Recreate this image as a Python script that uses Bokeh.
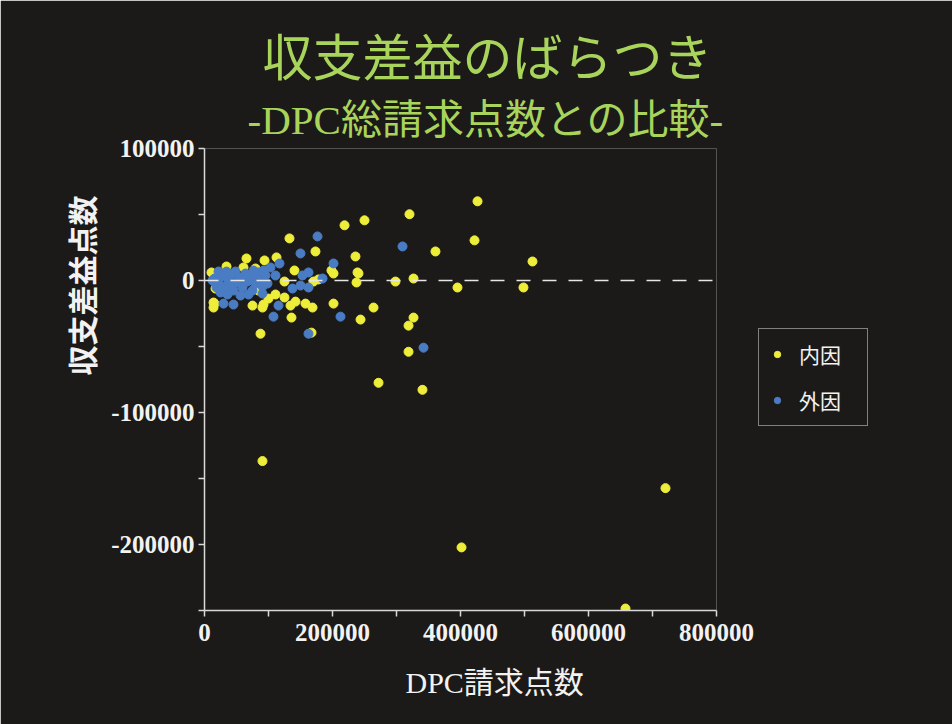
from bokeh.plotting import figure
from bokeh.models import (Range1d, FixedTicker, NumeralTickFormatter, Span, Title,
                          Legend, LegendItem)
from bokeh.embed import file_html
from bokeh.resources import INLINE

# ---------------- data ----------------
naiin_x = [90600, 401600, 720300, 657800, 426600, 320300, 250000, 218800, 421900,
           360900, 512500, 235900, 239100, 326600, 298400, 395300, 498400, 264100,
           326600, 318800, 318800, 271900, 340600, 201600, 240600, 237500, 201600,
           243800, 132800, 173400, 65600, 93800, 112500, 34400, 140600, 198400,
           125000, 170300, 178100, 84400, 100000, 110900, 125000, 142200, 157800,
           168800, 75000, 90600, 134400, 135900, 14100, 14100, 167200, 87500,
           60900, 79700, 17200, 15600, 92200, 10900]
naiin_y = [-136800, -202200, -157300, -248500, 60000, 50200, 45600, 41800, 30400,
           22000, 14400, 18200, 6100, 1500, -800, -5300, -5300, -20500,
           -28100, -34200, -54000, -77500, -82800, 5300, 5300, -1500, -17500,
           -29600, 31900, 22000, 16700, 15200, 17500, 10600, 7600, 7600,
           -800, -800, 800, -7600, -13700, -10600, -12900, -16000, -17500,
           -20500, -19000, -20500, -19000, -28100, -20500, -16700, -39500, -40300,
           9900, 9100, -6100, -17500, -18200, 6100]

gaiin_x = [309400, 342200, 201600, 212500, 176600, 150000, 117200, 162500, 153100,
           184400, 103100, 110900, 137500, 162500, 150000, 115600, 107800, 162500,
           29700, 45300,
           15600, 21900, 28100, 32800, 37500, 42200, 45300, 50000, 54700, 59400,
           64100, 67200, 71900, 75000, 79700, 84400, 87500, 90600, 95300, 98400,
           25000, 35900, 56300, 68800, 18800, 40600, 62500, 81300, 92200, 48400,
           21900, 34400, 76600, 90600, 12500]
gaiin_y = [25800, -50900, 12900, -27400, 33400, 20500, 12900, 6100, 3800,
           1500, 9900, 3800, -6100, -5300, -3800, -19000, -27400, -40300,
           -17500, -18200,
           1500, -2300, 3000, -4600, 0, 4600, -7600, -1500, 2300, -5300,
           5300, -800, 3000, -7600, -2300, 6100, 800, -4600, 3800, -2300,
           -9100, -10600, -11400, -10600, -5300, -3800, 800, 2300, 7600, 6800,
           6800, 6800, 7600, -9900, 0]

x_ticks = [0, 200000, 400000, 600000, 800000]
x_minor_ticks = [100000, 300000, 500000, 700000]
y_ticks = [-200000, -100000, 0, 100000]
y_minor_ticks = [-250000, -150000, -50000, 50000]

title_text = "収支差益のばらつき"
subtitle_text = "-DPC総請求点数との比較-"
x_label = "DPC請求点数"
y_label = "収支差益点数"
legend_labels = ["内因", "外因"]

# ---------------- style ----------------
BG = "#1c1a18"
FG = "#f2f2f2"
AXIS = "#d9d9d9"
YELLOW = "#eeee3a"
BLUE = "#4a7cc4"
GREEN = "#a9d45c"
SERIF_CJK = "'Liberation Serif', 'Noto Sans CJK JP'"
CJK = "'Noto Sans CJK JP'"

p = figure(frame_width=512, frame_height=462, output_backend="svg",
           toolbar_location=None,
           x_range=Range1d(0, 800000), y_range=Range1d(-250000, 100000),
           min_border_left=204, min_border_right=0, min_border_top=148,
           min_border_bottom=114)
p.background_fill_color = BG
p.border_fill_color = BG
p.outline_line_color = None
p.xgrid.visible = False
p.ygrid.visible = False

# titles: main title outermost, subtitle next to the frame
p.title.text = title_text
p.title.align = "left"
p.title.offset = 58
p.title.text_color = GREEN
p.title.text_font = CJK
p.title.text_font_style = "normal"
p.title.text_font_size = "50px"
p.title.standoff = 0
p.add_layout(Title(text=subtitle_text, align="left", offset=43, text_color=GREEN,
                   text_font=SERIF_CJK, text_font_style="normal",
                   text_font_size="41px", standoff=11), "above")

for ax in (p.xaxis[0], p.yaxis[0]):
    ax.axis_line_color = AXIS
    ax.axis_line_width = 1.5
    ax.major_tick_line_color = AXIS
    ax.minor_tick_line_color = AXIS
    ax.major_tick_line_width = 1.5
    ax.minor_tick_line_width = 1.5
    ax.major_tick_in = 0
    ax.minor_tick_in = 0
    ax.major_tick_out = 6
    ax.minor_tick_out = 6
    ax.major_label_text_color = FG
    ax.major_label_text_font = "Liberation Serif"
    ax.major_label_text_font_style = "bold"
    ax.major_label_text_font_size = "25px"
    ax.formatter = NumeralTickFormatter(format="0")

p.xaxis[0].ticker = FixedTicker(ticks=x_ticks, minor_ticks=x_minor_ticks)
p.yaxis[0].ticker = FixedTicker(ticks=y_ticks, minor_ticks=y_minor_ticks)
p.xaxis[0].major_label_standoff = 7
p.yaxis[0].major_label_standoff = 4

# axis titles placed as side titles so they can be offset like the reference
p.add_layout(Title(text=x_label, align="left", offset=201, text_color=FG,
                   text_font=SERIF_CJK, text_font_style="normal",
                   text_font_size="30px", standoff=40), "below")
p.add_layout(Title(text=y_label, align="right", offset=47, text_color=FG,
                   text_font=CJK, text_font_style="bold",
                   text_font_size="30px", standoff=11), "left")

# zero reference line
p.add_layout(Span(location=0, dimension="width", line_color="#e6e6e6",
                  line_width=1.5, line_dash="14 12"))

r1 = p.scatter(naiin_x, naiin_y, size=9, fill_color=YELLOW, line_color=YELLOW)
r2 = p.scatter(gaiin_x, gaiin_y, size=9, fill_color=BLUE, line_color=BLUE)

legend = Legend(items=[LegendItem(label=legend_labels[0], renderers=[r1]),
                       LegendItem(label=legend_labels[1], renderers=[r2])],
                location=(42, 184))
legend.background_fill_color = BG
legend.background_fill_alpha = 1
legend.border_line_color = "#e6e6e6"
legend.border_line_width = 1.5
legend.label_text_color = FG
legend.label_text_font = CJK
legend.label_text_font_size = "21px"
legend.label_width = 58
legend.label_height = 22
legend.glyph_height = 22
legend.glyph_width = 16
legend.label_standoff = 14
legend.padding = 10
legend.spacing = 16
legend.margin = 62
p.add_layout(legend, "right")

open("out.html", "w").write(file_html(p, INLINE))
